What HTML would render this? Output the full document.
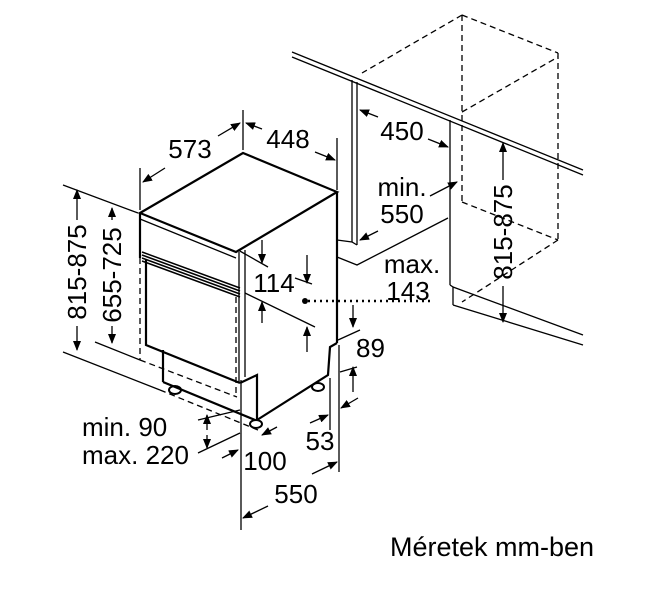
<!DOCTYPE html>
<html><head><style>body{margin:0;background:#fff}svg{display:block}text{font-family:"Liberation Sans",sans-serif;font-size:26px;fill:#000}</style></head>
<body>
<svg width="645" height="599" viewBox="0 0 645 599" xmlns="http://www.w3.org/2000/svg">
<defs><marker id="a" markerWidth="10" markerHeight="8" refX="9" refY="4" orient="auto" markerUnits="userSpaceOnUse"><path d="M0,0 L10,4 L0,8z" fill="#000"/></marker></defs>
<g stroke="#000" fill="none" stroke-width="1.3">
<line x1="292" y1="52" x2="583" y2="170"/><line x1="292" y1="57" x2="583" y2="175"/>
<line x1="352" y1="80" x2="352" y2="242"/><line x1="357" y1="82" x2="357" y2="245"/>
<polyline points="337,240 352,242 357,245"/><polyline points="337,257 357,265 448,218"/>
<line x1="450" y1="120" x2="450" y2="285"/>
<polyline points="450,285 453,287 453,305"/>
<line x1="453" y1="287" x2="583" y2="335"/><line x1="453" y1="305" x2="583" y2="345"/>
<g stroke-dasharray="6,4">
<line x1="462" y1="15" x2="462" y2="202"/><line x1="462" y1="15" x2="558" y2="53"/><line x1="558" y1="53" x2="558" y2="240"/>
<line x1="462" y1="15" x2="362" y2="73"/><line x1="462" y1="112" x2="558" y2="57"/>
<line x1="462" y1="202" x2="558" y2="240"/><line x1="558" y1="240" x2="462" y2="302"/>
<line x1="140" y1="258" x2="140" y2="360"/><line x1="236" y1="297" x2="236" y2="397"/>
<line x1="140" y1="360" x2="237" y2="397"/><line x1="160" y1="390" x2="258" y2="430"/>
</g>
<g stroke-width="2.2">
<polygon points="140,213 243,153 337,192 236,252"/>
<line x1="140" y1="213" x2="140" y2="258"/>
<line x1="337" y1="192" x2="337" y2="343"/>
<polyline points="337,343 330,347 328,375 257,420"/>
<polyline points="146,260 146,345 240,383"/>
<line x1="163" y1="350" x2="163" y2="382"/><line x1="163" y1="382" x2="255" y2="420"/>
<polyline points="240,383 257,375 257,420"/>
</g>
<line x1="140" y1="219" x2="236" y2="258"/>
<line x1="239" y1="252" x2="239" y2="383"/><line x1="245" y1="250" x2="245" y2="377"/>
<g stroke-width="1.5"><line x1="142" y1="252" x2="240" y2="288"/><line x1="142" y1="255" x2="240" y2="291"/><line x1="142" y1="258" x2="240" y2="294"/><line x1="142" y1="261" x2="240" y2="297"/></g>
<ellipse cx="175" cy="390" rx="6" ry="4" stroke-width="2"/><ellipse cx="256" cy="424" rx="6" ry="4" stroke-width="2"/><ellipse cx="318" cy="387" rx="6" ry="4" stroke-width="2"/>
<line x1="63" y1="185" x2="138" y2="213"/><line x1="63" y1="352" x2="160" y2="390"/>
<line x1="95" y1="342" x2="140" y2="360"/>
<line x1="77" y1="220" x2="77" y2="190" marker-end="url(#a)"/><line x1="77" y1="326" x2="77" y2="350" marker-end="url(#a)"/>
<line x1="112" y1="220" x2="112" y2="208" marker-end="url(#a)"/><line x1="112" y1="326" x2="112" y2="343" marker-end="url(#a)"/>
<line x1="140" y1="168" x2="140" y2="210"/><line x1="243" y1="110" x2="243" y2="150"/><line x1="337" y1="138" x2="337" y2="190"/>
<line x1="165" y1="168" x2="143" y2="182" marker-end="url(#a)"/><line x1="218" y1="136" x2="240" y2="123" marker-end="url(#a)"/>
<line x1="262" y1="129" x2="246" y2="123" marker-end="url(#a)"/><line x1="315" y1="152" x2="335" y2="160" marker-end="url(#a)"/>
<line x1="378" y1="117" x2="360" y2="110" marker-end="url(#a)"/><line x1="428" y1="139" x2="448" y2="147" marker-end="url(#a)"/>
<line x1="430" y1="196" x2="457" y2="182" marker-end="url(#a)"/><line x1="378" y1="231" x2="360" y2="240" marker-end="url(#a)"/>
<line x1="503" y1="180" x2="503" y2="143" marker-end="url(#a)"/><line x1="503" y1="286" x2="503" y2="322" marker-end="url(#a)"/>
<line x1="238" y1="250" x2="268" y2="267"/><line x1="245" y1="293" x2="315" y2="327"/>
<line x1="262" y1="240" x2="262" y2="263" marker-end="url(#a)"/><line x1="262" y1="323" x2="262" y2="302" marker-end="url(#a)"/>
<line x1="307" y1="255" x2="307" y2="283" marker-end="url(#a)"/><line x1="295" y1="278" x2="312" y2="284"/>
<line x1="307" y1="352" x2="307" y2="327" marker-end="url(#a)"/>
<line x1="353" y1="305" x2="353" y2="327" marker-end="url(#a)"/><line x1="338" y1="340" x2="360" y2="330"/>
<line x1="353" y1="392" x2="353" y2="367" marker-end="url(#a)"/><line x1="340" y1="372" x2="357" y2="367"/>
<line x1="339" y1="345" x2="339" y2="472"/><line x1="330" y1="378" x2="330" y2="430"/>
<line x1="310" y1="423" x2="328" y2="415" marker-end="url(#a)"/><line x1="358" y1="398" x2="341" y2="408" marker-end="url(#a)"/>
<line x1="241" y1="380" x2="241" y2="530"/>
<line x1="268" y1="506" x2="243" y2="518" marker-end="url(#a)"/><line x1="312" y1="474" x2="337" y2="462" marker-end="url(#a)"/>
<line x1="222" y1="458" x2="238" y2="450" marker-end="url(#a)"/><line x1="277" y1="427" x2="262" y2="435" marker-end="url(#a)"/>
<line x1="198" y1="420" x2="240" y2="410"/><line x1="198" y1="453" x2="240" y2="433"/>
<line x1="207" y1="430" x2="207" y2="415" marker-end="url(#a)"/><line x1="207" y1="435" x2="207" y2="448" marker-end="url(#a)"/>
</g>
<line x1="308" y1="301" x2="432" y2="301" stroke="#000" stroke-width="2.5" stroke-dasharray="2,4"/>
<circle cx="305" cy="301" r="3" fill="#000"/>
<text x="190" y="158" text-anchor="middle">573</text>
<text x="288" y="148" text-anchor="middle">448</text>
<text x="402" y="140" text-anchor="middle">450</text>
<text x="402" y="196" text-anchor="middle">min.</text>
<text x="402" y="223" text-anchor="middle">550</text>
<text x="412" y="273" text-anchor="middle">max.</text>
<text x="408" y="300" text-anchor="middle">143</text>
<text x="274" y="292" text-anchor="middle">114</text>
<text x="356" y="357">89</text>
<text x="320" y="450" text-anchor="middle">53</text>
<text x="265" y="470" text-anchor="middle">100</text>
<text x="296" y="503" text-anchor="middle">550</text>
<text x="82" y="436">min. 90</text>
<text x="82" y="464">max. 220</text>
<text transform="translate(86,272) rotate(-90)" text-anchor="middle">815-875</text>
<text transform="translate(121,275) rotate(-90)" text-anchor="middle">655-725</text>
<text transform="translate(512,232) rotate(-90)" text-anchor="middle">815-875</text>
<text x="390" y="556" style="font-size:27px">Méretek mm-ben</text>
</svg>
</body></html>
